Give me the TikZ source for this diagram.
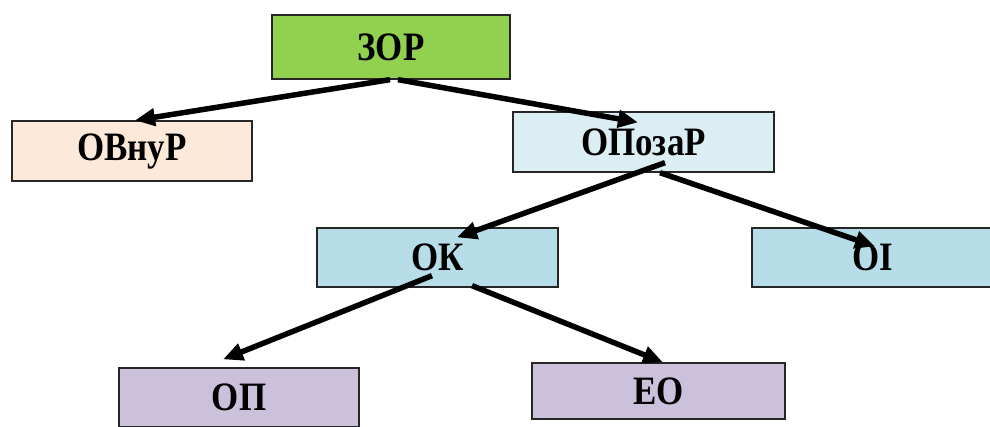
\documentclass[tikz,border=0pt]{standalone}
\usepackage{fontspec}
\setmainfont{Liberation Serif}
\usetikzlibrary{arrows.meta}
\definecolor{cgreen}{HTML}{92D050}
\definecolor{cpeach}{HTML}{FDE9D9}
\definecolor{clblue}{HTML}{DBEEF4}
\definecolor{cblue}{HTML}{B7DEE8}
\definecolor{cpurple}{HTML}{CCC1DA}
\newcommand\stx[1]{\scalebox{0.97}[1.12]{#1}}
\tikzset{
  box/.style={draw=black!85, line width=1.3bp, inner sep=0pt,
    font=\fontsize{36bp}{40bp}\selectfont\bfseries},
  conn/.style={line width=5.5bp, draw=black,
    -{Triangle[length=20bp,width=17bp]}},
}
\begin{document}
\begin{tikzpicture}[x=1bp,y=-1bp]
\useasboundingbox (0,0) rectangle (990,426);
\node[box, fill=cgreen,  minimum width=238bp, minimum height=64bp] (zor) at (391,47) {\stx{ЗОР}};
\node[box, fill=cpeach,  minimum width=240bp, minimum height=60bp] (ovn) at (132,151) {\stx{ОВнуР}};
\node[box, fill=clblue,  minimum width=261bp, minimum height=60bp] (opz) at (643.5,142) {\stx{ОПозаР}};
\node[box, fill=cblue,   minimum width=241bp, minimum height=59bp] (ok) at (437.5,257.5) {\stx{ОК}};
\node[box, fill=cblue,   minimum width=242bp, minimum height=59bp] (oi) at (873,257.5) {\stx{ОІ}};
\node[box, fill=cpurple, minimum width=240bp, minimum height=59bp] (op) at (239,397.5) {\stx{ОП}};
\node[box, fill=cpurple, minimum width=253bp, minimum height=56bp] (eo) at (658.5,391) {\stx{ЕО}};
\draw[conn] ([xshift=-1bp]zor.south) -- ([xshift=3bp]ovn.north);
\draw[conn] ([xshift=7bp]zor.south) -- ([xshift=-5.5bp,yshift=-11bp]opz.north);
\draw[conn] ([xshift=21.5bp,yshift=10bp]opz.south) -- ([xshift=19.5bp,yshift=-10bp]ok.north);
\draw[conn] ([xshift=16.5bp]opz.south) -- ([xshift=2bp,yshift=-19bp]oi.north);
\draw[conn] ([xshift=-5.5bp,yshift=12bp]ok.south) -- ([xshift=-16bp,yshift=8bp]op.north);
\draw[conn] ([xshift=34.5bp,yshift=2bp]ok.south) -- ([xshift=4.5bp]eo.north);
\end{tikzpicture}
\end{document}
